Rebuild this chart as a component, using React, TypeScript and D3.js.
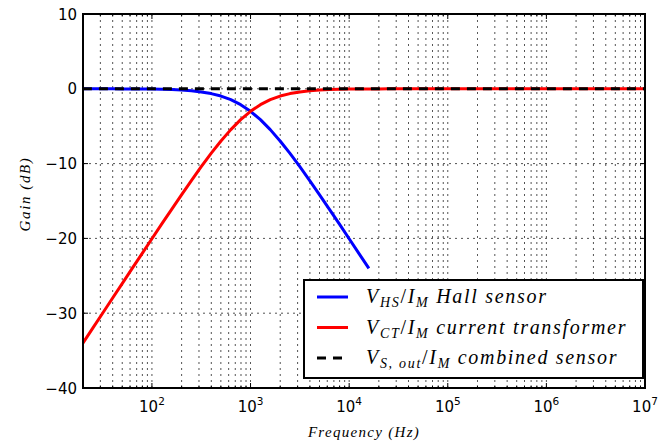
import React from "react";
import * as d3 from "d3";

// Frequencies (Hz) sampled on a log grid (0.1 decade steps)
const freqHall = [
  19.95, 25.12, 31.62, 39.81, 50.12, 63.1, 79.43, 100, 125.9, 158.5, 199.5, 251.2, 316.2, 398.1, 501.2, 631,
  794.3, 1000, 1259, 1585, 1995, 2512, 3162, 3981, 5012, 6310, 7943, 10000, 12589, 15849,
];
const gainHall = [
  -0.002, -0.003, -0.004, -0.007, -0.011, -0.017, -0.027, -0.043, -0.068, -0.108, -0.17, -0.266, -0.414, -0.639,
  -0.973, -1.456, -2.125, -3.01, -4.125, -5.456, -6.973, -8.639, -10.414, -12.266, -14.17, -16.108, -18.069,
  -20.043, -22.028, -24.017,
];
const freqCT = [
  19.95, 25.12, 31.62, 39.81, 50.12, 63.1, 79.43, 100, 125.9, 158.5, 199.5, 251.2, 316.2, 398.1, 501.2, 631,
  794.3, 1000, 1259, 1585, 1995, 2512, 3162, 3981, 5012, 6310, 7943, 10000, 12589, 15849, 19953, 25119, 31623,
  100000, 1000000, 10000000,
];
const gainCT = [
  -34.002, -32.003, -30.004, -28.007, -26.011, -24.017, -22.027, -20.043, -18.068, -16.108, -14.17, -12.266,
  -10.414, -8.639, -6.973, -5.456, -4.125, -3.01, -2.125, -1.456, -0.973, -0.639, -0.414, -0.266, -0.17, -0.108,
  -0.068, -0.043, -0.027, -0.017, -0.011, -0.007, -0.004, 0, 0, 0,
];
const freqComb = [19.95, 100, 1000, 10000, 100000, 1000000, 10000000];
const gainComb = [0, 0, 0, 0, 0, 0, 0];

const xDomain = [20, 1e7];
const yDomain = [-40, 10];
const yTicks = [-40, -30, -20, -10, 0, 10];
const xMajorExp = [2, 3, 4, 5, 6, 7];

const W = 658;
const H = 443;
const L = 83;
const T = 14;
const R = 645;
const B = 388;

export default function App() {
  const x = d3.scaleLog().domain(xDomain).range([L, R]);
  const y = d3.scaleLinear().domain(yDomain).range([B, T]);

  const minor: number[] = [];
  for (let e = 1; e <= 6; e++) {
    for (let m = 2; m <= 9; m++) {
      const v = m * Math.pow(10, e);
      if (v >= xDomain[0] && v <= xDomain[1]) minor.push(v);
    }
  }
  const major = xMajorExp.map((e) => Math.pow(10, e));

  const line = (fx: number[], gy: number[]) =>
    d3.line<number>().x((_, i) => x(fx[i])).y((d) => y(d))(gy) || "";

  const gridStyle = { stroke: "#000", strokeWidth: 0.9, strokeDasharray: "2,4", opacity: 0.75 };
  const tickFont = "DejaVu Sans, sans-serif";
  const serif = "Liberation Serif, serif";
  const legFS = 20;
  const subFS = 14;

  const legendRows = [
    { color: "#0000ff", dash: undefined, parts: [["V", ""], ["HS", "sub"], ["/", "up"], ["I", ""], ["M", "sub"], [" Hall sensor", ""]] },
    { color: "#ff0000", dash: undefined, parts: [["V", ""], ["CT", "sub"], ["/", "up"], ["I", ""], ["M", "sub"], [" current transformer", ""]] },
    { color: "#000", dash: "9,7", parts: [["V", ""], ["S, out", "sub"], ["/", "up"], ["I", ""], ["M", "sub"], [" combined sensor", ""]] },
  ];

  return (
    <svg width={W} height={H} style={{ position: "absolute", left: 0, top: 0, background: "#fff" }}>
      <rect x={0} y={0} width={W} height={H} fill="#fff" />
      <defs>
        <clipPath id="plot">
          <rect x={L} y={T} width={R - L} height={B - T} />
        </clipPath>
      </defs>
      {/* grid */}
      <g>
        {minor.concat(major).map((v, i) => (
          <line key={"gx" + i} x1={x(v)} x2={x(v)} y1={T} y2={B} style={gridStyle} />
        ))}
        {yTicks.map((v, i) => (
          <line key={"gy" + i} x1={L} x2={R} y1={y(v)} y2={y(v)} style={gridStyle} />
        ))}
      </g>
      {/* ticks (inside, all four sides) */}
      <g stroke="#000" strokeWidth={1}>
        {major.map((v, i) => (
          <g key={"mt" + i}>
            <line x1={x(v)} x2={x(v)} y1={B} y2={B - 5} />
            <line x1={x(v)} x2={x(v)} y1={T} y2={T + 5} />
          </g>
        ))}
        {minor.map((v, i) => (
          <g key={"nt" + i}>
            <line x1={x(v)} x2={x(v)} y1={B} y2={B - 2.5} />
            <line x1={x(v)} x2={x(v)} y1={T} y2={T + 2.5} />
          </g>
        ))}
        {yTicks.map((v, i) => (
          <g key={"yt" + i}>
            <line x1={L} x2={L + 5} y1={y(v)} y2={y(v)} />
            <line x1={R} x2={R - 5} y1={y(v)} y2={y(v)} />
          </g>
        ))}
      </g>
      {/* curves */}
      <g clipPath="url(#plot)" fill="none" strokeLinejoin="round">
        <path d={line(freqHall, gainHall)} stroke="#0000ff" strokeWidth={3} />
        <path d={line(freqCT, gainCT)} stroke="#ff0000" strokeWidth={3} />
        <path d={line(freqComb, gainComb)} stroke="#000" strokeWidth={3} strokeDasharray="9,7" />
      </g>
      {/* frame */}
      <rect x={L} y={T} width={R - L} height={B - T} fill="none" stroke="#000" strokeWidth={2} />
      {/* y tick labels */}
      {yTicks.map((v, i) => (
        <text key={"yl" + i} x={L - 6} y={y(v) + 5.5} textAnchor="end" fontFamily={tickFont} fontSize={15}>
          {v < 0 ? "\u2212" + Math.abs(v) : String(v)}
        </text>
      ))}
      {/* x tick labels */}
      {xMajorExp.map((e, i) => (
        <text key={"xl" + i} x={x(Math.pow(10, e))} y={B + 24} textAnchor="middle" fontFamily={tickFont} fontSize={15}>
          <tspan>10</tspan>
          <tspan fontSize={10.5} dy={-7}>{e}</tspan>
        </text>
      ))}
      {/* axis labels */}
      <text x={(L + R) / 2} y={437} textAnchor="middle" fontFamily={serif} fontStyle="italic" fontSize={15} letterSpacing={1.3}>
        Frequency (Hz)
      </text>
      <text
        transform={`translate(30,${(T + B) / 2 - 7}) rotate(-90)`}
        textAnchor="middle"
        fontFamily={serif}
        fontStyle="italic"
        fontSize={15}
        letterSpacing={1.6}
      >
        Gain (dB)
      </text>
      {/* legend */}
      <g>
        <rect x={304} y={280} width={339} height={98} fill="#fff" stroke="#000" strokeWidth={2} />
        {legendRows.map((row, i) => {
          const cy = 297 + i * 30.5;
          return (
            <g key={"lg" + i}>
              <line x1={317} x2={348} y1={cy} y2={cy} stroke={row.color} strokeWidth={3} strokeDasharray={row.dash} />
              <text x={366} y={cy + 6} fontFamily={serif} fontStyle="italic" fontSize={legFS} letterSpacing={1.7}>
                {(() => {
                  let cur = 0;
                  return row.parts.map(([s, kind], j) => {
                    const target = kind === "sub" ? 4 : 0;
                    const dy = target - cur;
                    cur = target;
                    return (
                      <tspan
                        key={j}
                        dy={dy}
                        fontSize={kind === "sub" ? subFS : legFS}
                        fontStyle={kind === "up" ? "normal" : "italic"}
                        style={{ whiteSpace: "pre" }}
                      >
                        {s}
                      </tspan>
                    );
                  });
                })()}
              </text>
            </g>
          );
        })}
      </g>
    </svg>
  );
}
